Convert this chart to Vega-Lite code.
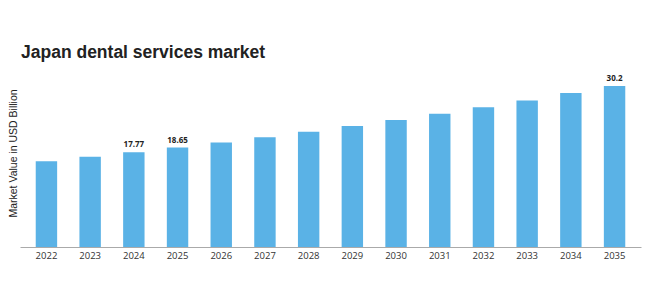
{
  "$schema": "https://vega.github.io/schema/vega-lite/v6.json",
  "width": 621,
  "height": 177,
  "autosize": {"type": "none"},
  "padding": {"left": 20, "top": 70, "right": 22, "bottom": 51},
  "background": "white",
  "title": {
    "text": "Japan dental services market",
    "anchor": "start",
    "frame": "group",
    "font": "Liberation Sans",
    "fontSize": 17.5,
    "fontWeight": "bold",
    "color": "#222222",
    "offset": 9,
    "dx": 1
  },
  "data": {
    "values": [
      {"year": "2022", "value": 16.1, "label": ""},
      {"year": "2023", "value": 16.95, "label": ""},
      {"year": "2024", "value": 17.77, "label": "17.77"},
      {"year": "2025", "value": 18.65, "label": "18.65"},
      {"year": "2026", "value": 19.6, "label": ""},
      {"year": "2027", "value": 20.6, "label": ""},
      {"year": "2028", "value": 21.6, "label": ""},
      {"year": "2029", "value": 22.7, "label": ""},
      {"year": "2030", "value": 23.8, "label": ""},
      {"year": "2031", "value": 25.0, "label": ""},
      {"year": "2032", "value": 26.2, "label": ""},
      {"year": "2033", "value": 27.5, "label": ""},
      {"year": "2034", "value": 28.9, "label": ""},
      {"year": "2035", "value": 30.2, "label": "30.2"}
    ]
  },
  "encoding": {
    "x": {
      "field": "year",
      "type": "ordinal",
      "scale": {"paddingInner": 0.51, "paddingOuter": 0.36},
      "axis": {
        "title": null,
        "labelAngle": 0,
        "ticks": false,
        "domainColor": "#aaaaaa",
        "domainWidth": 1,
        "labelFont": "Open Sans",
        "labelFontSize": 9.5,
        "labelColor": "#333333",
        "labelPadding": 3
      }
    },
    "y": {
      "field": "value",
      "type": "quantitative",
      "scale": {"domain": [0, 33.2], "nice": false},
      "axis": {
        "title": "Market Value in USD Billion",
        "labels": false,
        "ticks": false,
        "domain": false,
        "grid": false,
        "titleFont": "Liberation Sans",
        "titleFontSize": 10.5,
        "titleFontWeight": "normal",
        "titleColor": "#222222",
        "titleX": -7,
        "titleY": 83,
        "titleAngle": -90,
        "titleAlign": "center",
        "titleBaseline": "middle"
      }
    }
  },
  "layer": [
    {"mark": {"type": "bar", "color": "#5AB2E6"}},
    {
      "mark": {"type": "text", "dy": -7, "font": "Open Sans", "fontSize": 8, "fontWeight": "bold", "color": "#222222"},
      "encoding": {"text": {"field": "label"}}
    }
  ],
  "config": {"view": {"stroke": null}}
}
